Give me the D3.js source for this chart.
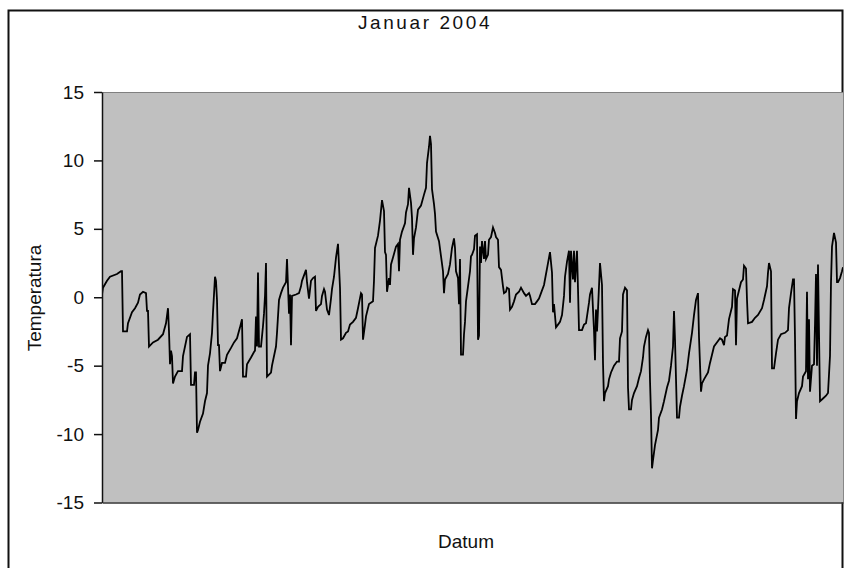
<!DOCTYPE html>
<html>
<head>
<meta charset="utf-8">
<script src="https://cdn.jsdelivr.net/npm/d3@7"></script>
<style>
  html, body { margin: 0; padding: 0; background: #ffffff; }
  svg { display: block; }
  text { font-family: "Liberation Sans", Arial, sans-serif; fill: #111; }
</style>
</head>
<body>
<svg id="chart" width="844" height="568"></svg>
<script>
// ---- data (hour of month, temperature °C) ----
const chartTitle = "Januar 2004";
const xLabel = "Datum";
const yLabel = "Temperatura";
const yTicks = [-15, -10, -5, 0, 5, 10, 15];

const hourOfMonth = [
  0,1,5,8,15,19,20,21,25,26,30,33,36,38,41,44,45,46,47,51,56,61,64,66,67,68,69,70,71,73,76,80,81,83,85,88,89,92,93,94,95,96,98,101,103,105,106,108,110,111,113,114,115,116,117,118,120,123,
  125,129,132,135,138,140,141,144,145,149,152,153,154,155,156,157,159,161,162,163,164,165,169,170,174,175,177,179,181,184,185,187,188,189,190,194,197,199,200,204,205,207,209,211,213,214,216,219,220,222,223,225,227,229,230,232,234,236,238,239,241,244,
  246,248,251,254,256,259,260,261,263,264,267,271,272,273,276,278,280,282,283,284,285,287,288,289,291,294,296,297,298,300,303,304,306,307,309,310,311,312,314,316,319,322,324,325,327,328,329,330,332,333,334,337,339,341,342,343,346,348,350,352,353,354,356,357,358,359,361,362,363,364,366,368,369,
  370,372,373,375,376,377,378,379,380,382,383,384,386,387,389,391,393,394,396,397,399,401,402,404,405,407,408,410,412,414,417,419,422,424,427,428,430,433,435,437,439,442,444,446,448,450,451,452,454,456,458,460,462,463,465,467,468,469,471,472,473,475,476,477,480,482,484,485,487,488,490,491,492,493,494,
  495,496,497,498,500,501,502,503,506,507,509,512,515,517,518,520,521,523,525,526,527,529,530,532,535,537,539,541,542,544,546,547,548,549,550,551,553,556,557,560,562,565,567,569,571,572,573,575,577,578,580,582,585,587,590,592,594,596,597,599,600,602,606,608,610,612,616,
  618,620,622,623,625,627,630,631,633,634,635,636,639,641,642,644,645,646,650,653,656,660,662,665,666,667,669,670,672,674,676,679,683,686,687,689,691,692,693,694,695,697,700,701,704,705,706,707,708,710,712,713,714,715,716,717,718,721,724,726,728,729,730,732,734,735,736,738,740,741
];

const temperature = [
  0.2,0.7,1.2,1.5,1.7,1.9,1.9,-2.5,-2.5,-1.9,-1.1,-0.8,-0.4,0.2,0.4,0.3,-1.0,-1.0,-3.6,-3.3,-3.1,-2.7,-1.9,-0.8,-2.5,-4.9,-3.9,-4.3,-6.3,-5.8,-5.4,-5.4,-4.3,-3.6,-2.9,-2.7,-6.4,-6.4,-5.5,-5.5,-9.9,-9.7,-9.1,-8.5,-7.6,-7.0,-5.0,-4.1,-2.6,-1.1,1.5,1.2,-0.2,-3.5,-3.5,-5.4,-4.8,-4.8,
  -4.2,-3.7,-3.3,-3.0,-2.2,-1.6,-5.8,-5.8,-4.9,-4.4,-4.0,-3.9,-1.4,-3.6,1.8,-3.6,-3.6,-2.1,-1.2,0.1,2.5,-5.8,-5.5,-5.0,-3.6,-2.6,-0.2,0.3,0.7,1.1,2.8,-1.2,0.2,-3.5,0.1,0.2,0.3,0.8,1.2,2.0,1.1,-0.1,1.2,1.4,1.5,-1.0,-0.7,-0.5,0.1,0.6,0.4,-0.9,-1.3,-0.1,0.6,1.5,2.9,3.9,0.7,-3.1,-3.0,-2.6,
  -2.5,-2.0,-1.8,-1.5,-0.8,0.3,0.2,-3.1,-2.0,-1.4,-0.5,-0.3,1.2,3.6,4.5,5.6,7.1,6.3,3.3,3.1,0.4,1.4,0.9,2.4,2.9,3.7,3.9,1.9,4.2,4.8,5.4,6.2,6.8,8.0,6.9,5.8,3.1,4.3,5.1,6.4,6.7,7.5,8.0,9.8,11.0,11.8,11.2,7.9,6.8,6.1,4.8,4.1,3.0,1.9,0.3,1.3,1.7,2.4,3.6,4.3,3.6,1.9,1.4,-0.5,2.8,-4.2,-4.2,-2.7,-1.8,-0.3,0.8,1.9,3.0,
  3.1,3.5,4.5,4.6,-3.1,-2.8,3.7,2.5,4.1,2.8,4.1,2.8,3.1,4.2,4.4,5.1,4.7,4.4,4.2,2.2,2.0,0.8,0.3,0.4,0.7,0.6,-0.9,-0.7,-0.3,0.2,0.4,0.7,0.3,0.1,0.3,0.1,-0.5,-0.5,-0.3,-0.1,0.3,0.9,1.7,2.5,3.3,1.8,-1.1,-0.5,-2.2,-2.0,-1.8,-1.3,0.1,1.5,2.6,3.4,-0.4,3.4,1.3,3.4,1.1,3.4,0.6,-2.4,-2.4,-2.0,-1.9,-1.4,-0.4,0.2,0.7,-0.9,-2.4,-4.6,-0.9,
  -2.5,-0.9,0.8,2.5,0.9,-4.8,-7.6,-7.0,-6.5,-6.0,-5.5,-5.0,-4.7,-4.7,-3.0,-2.5,0.2,0.7,0.5,-6.6,-8.2,-8.2,-7.5,-7.0,-6.5,-5.9,-5.4,-4.4,-3.6,-2.9,-2.4,-2.6,-6.1,-8.6,-12.5,-11.9,-10.8,-9.7,-8.8,-8.2,-7.6,-6.6,-6.1,-5.0,-3.6,-1.0,-3.1,-8.8,-8.8,-8.0,-7.2,-6.5,-5.3,-4.1,-2.6,-1.3,-0.2,0.3,-2.9,-6.9,-6.3,-6.0,-5.5,-4.8,-4.2,-3.6,-3.2,
  -3.0,-3.1,-3.5,-2.9,-2.8,-1.6,-0.7,0.6,0.5,-3.5,-0.1,0.2,1.1,1.3,2.3,2.1,-0.2,-1.9,-1.8,-1.5,-1.3,-0.8,-0.2,0.8,1.8,2.5,1.9,-5.2,-5.2,-4.1,-3.1,-2.7,-2.6,-2.4,-0.8,0.3,1.3,1.3,-3.0,-8.9,-7.6,-7.0,-6.5,-5.8,-5.4,0.4,-6.0,-1.6,-6.9,-5.0,-4.9,-2.0,1.7,-5.0,2.4,-2.6,-7.6,-7.4,-7.2,-7.0,-4.3,1.1,3.7,4.7,4.0,1.1,1.1,1.4,1.9,2.2
];

// ---- layout ----
const svg = d3.select("#chart");
const plot = { left: 102, right: 843, top: 92, bottom: 502.5 };

// outer chart frame
svg.append("rect")
  .attr("x", 8.5).attr("y", 10.5)
  .attr("width", 834).attr("height", 600)
  .attr("fill", "#ffffff")
  .attr("stroke", "#111").attr("stroke-width", 2);

const x = d3.scaleLinear().domain([0, 741]).range([plot.left, plot.right]);
const y = d3.scaleLinear().domain([-15, 15]).range([plot.bottom, plot.top]);

// plot area
svg.append("rect")
  .attr("x", plot.left).attr("y", plot.top)
  .attr("width", plot.right - plot.left).attr("height", plot.bottom - plot.top)
  .attr("fill", "#c0c0c0");
svg.append("line")
  .attr("x1", plot.left).attr("x2", plot.right)
  .attr("y1", plot.top + 0.5).attr("y2", plot.top + 0.5)
  .attr("stroke", "#808080").attr("stroke-width", 1);

svg.append("clipPath").attr("id", "clip")
  .append("rect")
  .attr("x", plot.left).attr("y", plot.top)
  .attr("width", plot.right - plot.left).attr("height", plot.bottom - plot.top);

const data = hourOfMonth.map((h, i) => ({ h, t: temperature[i] }));
const line = d3.line().x(d => x(d.h)).y(d => y(d.t));
svg.append("path")
  .datum(data)
  .attr("clip-path", "url(#clip)")
  .attr("d", line)
  .attr("fill", "none")
  .attr("stroke", "#000")
  .attr("stroke-width", 1.8)
  .attr("stroke-linejoin", "miter");

// y axis
const yAxis = d3.axisLeft(y).tickValues(yTicks).tickSize(8).tickPadding(10).tickSizeOuter(0)
  .tickFormat(d => d);
const gy = svg.append("g").attr("transform", `translate(${plot.left},0)`).call(yAxis);
gy.select(".domain").attr("stroke", "#111").attr("stroke-width", 1.5);
gy.selectAll(".tick line").attr("stroke", "#111").attr("stroke-width", 1.5);
gy.selectAll(".tick text")
  .attr("font-size", 19)
  .attr("font-family", "Liberation Sans, Arial, sans-serif")
  .attr("fill", "#111");

// x axis (bottom line)
const xAxis = d3.axisBottom(x).tickValues([]).tickSizeOuter(0);
const gx = svg.append("g").attr("transform", `translate(0,${plot.bottom})`).call(xAxis);
gx.select(".domain").attr("stroke", "#333").attr("stroke-width", 1.5);

// labels
svg.append("text")
  .attr("x", 425).attr("y", 29)
  .attr("text-anchor", "middle")
  .attr("font-size", 19)
  .attr("letter-spacing", 2.6)
  .text(chartTitle);

svg.append("text")
  .attr("x", 466).attr("y", 548)
  .attr("text-anchor", "middle")
  .attr("font-size", 19)
  .text(xLabel);

svg.append("text")
  .attr("transform", "translate(41,298) rotate(-90)")
  .attr("text-anchor", "middle")
  .attr("font-size", 19)
  .text(yLabel);
</script>
</body>
</html>
